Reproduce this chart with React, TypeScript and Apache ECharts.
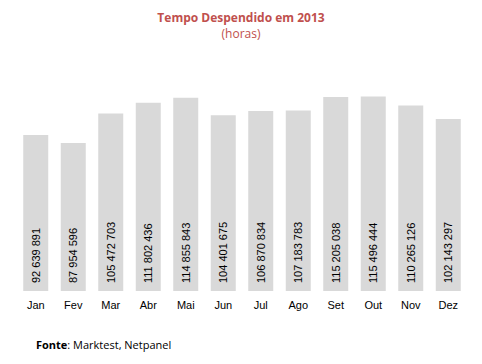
import React, { useEffect, useRef } from "react";
import * as echarts from "echarts";

const months = ["Jan", "Fev", "Mar", "Abr", "Mai", "Jun", "Jul", "Ago", "Set", "Out", "Nov", "Dez"];
const hours = [92639891, 87954596, 105472703, 111802436, 114855843, 104401675, 106870834, 107183783, 115205038, 115496444, 110265126, 102143297];

const fmt = (v: number) => String(v).replace(/\B(?=(\d{3})+(?!\d))/g, " ");

export default function App() {
  const ref = useRef<HTMLDivElement>(null);
  useEffect(() => {
    const chart = echarts.init(ref.current!, null, { renderer: "svg" });
    chart.setOption({
      animation: false,
      textStyle: { fontFamily: "Liberation Sans" },
      title: {
        text: "Tempo Despendido em 2013",
        subtext: "(horas)",
        left: "center",
        top: 6,
        itemGap: 4,
        textStyle: { color: "#c0504d", fontSize: 12, fontWeight: "bold", fontFamily: "Open Sans" },
        subtextStyle: { color: "#c0504d", fontSize: 12, fontFamily: "Open Sans" },
      },
      graphic: [
        {
          type: "text",
          left: 36,
          top: 339,
          style: {
            text: "{b|Fonte}: Marktest, Netpanel",
            font: "11px 'Open Sans'",
            fill: "#000",
            rich: { b: { fontWeight: "bold", fontSize: 11, fontFamily: "Open Sans", fill: "#000" } },
          },
        },
      ],
      grid: { left: 17, right: 15, top: 89, bottom: 73 },
      xAxis: {
        type: "category",
        data: months,
        axisLine: { show: false },
        axisTick: { show: false },
        axisLabel: { color: "#000", fontSize: 11, margin: 8 },
      },
      yAxis: {
        type: "value",
        min: 0,
        max: 120000000,
        show: false,
        splitLine: { show: false },
      },
      series: [
        {
          type: "bar",
          data: hours,
          barWidth: 25,
          itemStyle: { color: "#d9d9d9" },
          label: {
            show: true,
            position: "insideBottom",
            rotate: 90,
            align: "left",
            verticalAlign: "middle",
            distance: 8,
            color: "#000",
            fontSize: 11,
            formatter: (p: any) => fmt(p.value),
          },
        },
      ],
    });
    return () => chart.dispose();
  }, []);
  return <div ref={ref} style={{ width: 482, height: 364, position: "absolute", left: 0, top: 0 }} />;
}
